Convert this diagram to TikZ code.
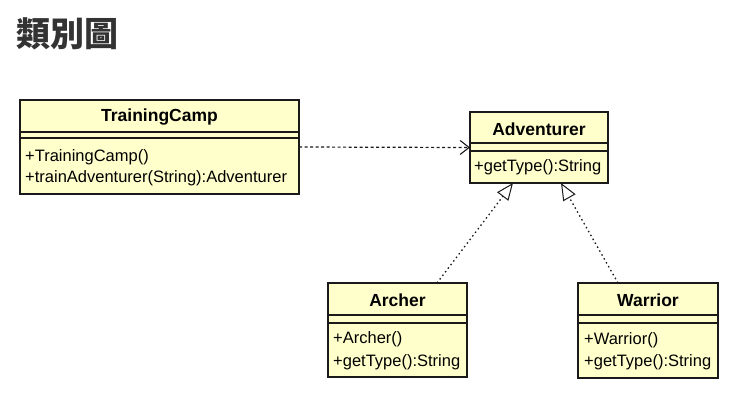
\documentclass[tikz,border=0pt]{standalone}
\usepackage{fontspec}
\setmainfont{Liberation Sans}
\newfontfamily\cjk{Noto Sans CJK TC}
\usetikzlibrary{arrows.meta}
\definecolor{clsfill}{HTML}{FFFFCC}
\definecolor{titlegray}{HTML}{333333}
\definecolor{edge}{HTML}{1A1A1A}
\begin{document}
\begin{tikzpicture}[x=1pt,y=-1pt,
  cls/.style={draw=edge, line width=1.4pt, fill=clsfill, anchor=north west, inner sep=0pt, outer sep=0pt},
  sep/.style={draw=edge, line width=1.4pt},
  ctitle/.style={font=\fontsize{17.5}{19}\selectfont\bfseries, inner sep=0pt, anchor=center},
  member/.style={font=\fontsize{16.5}{19}\selectfont, inner sep=0pt, anchor=mid west},
  realize/.style={draw=edge, line width=1.3pt, dash pattern=on 1.5pt off 3pt, -{Triangle[open, length=17pt, width=14pt, fill=white, line width=1pt]}},
  depend/.style={draw=edge, line width=1.2pt, dash pattern=on 3pt off 2.5pt, -{Straight Barb[length=9pt, width=14pt, line width=1.1pt]}}
]
\useasboundingbox (0,0) rectangle (736,402);
\fill[white] (0,0) rectangle (736,402);

\node[font=\cjk\bfseries\fontsize{34}{36}\selectfont, text=titlegray, anchor=west, inner sep=0pt] (title) at (16,34) {類別圖};

% TrainingCamp
\node[cls, minimum width=279pt, minimum height=94pt] (tc) at (20,100) {};
\draw[sep] (20,132) -- (299,132);
\draw[sep] (20,138) -- (299,138);
\node[ctitle] (tct) at (159.5,117) {TrainingCamp};
\node[member] (tcm1) at (25,159) {+TrainingCamp()};
\node[member] (tcm2) at (25,180) {+trainAdventurer(String):Adventurer};

% Adventurer
\node[cls, minimum width=138pt, minimum height=71pt] (adv) at (470,112) {};
\draw[sep] (470,143) -- (608,143);
\draw[sep] (470,151) -- (608,151);
\node[ctitle] (advt) at (539,129) {Adventurer};
\node[member] (advm1) at (474,169) {+getType():String};

% Archer
\node[cls, minimum width=139pt, minimum height=94pt] (arc) at (328,283) {};
\draw[sep] (328,315) -- (467,315);
\draw[sep] (328,323) -- (467,323);
\node[ctitle] (arct) at (397.5,300.5) {Archer};
\node[member] (arcm1) at (333,341) {+Archer()};
\node[member] (arcm2) at (333,364) {+getType():String};

% Warrior
\node[cls, minimum width=140pt, minimum height=95pt] (war) at (578,283) {};
\draw[sep] (578,315) -- (718,315);
\draw[sep] (578,323) -- (718,323);
\node[ctitle] (wart) at (648,300.5) {Warrior};
\node[member] (warm1) at (584,342) {+Warrior()};
\node[member] (warm2) at (584,364) {+getType():String};

% connectors
\draw[depend] (tc.east) -- (adv.west);
\draw[realize] ([xshift=-30pt]arc.north east) -- ([xshift=-26pt]adv.south);
\draw[realize] ([xshift=40pt]war.north west) -- ([xshift=22pt]adv.south);
\end{tikzpicture}
\end{document}
